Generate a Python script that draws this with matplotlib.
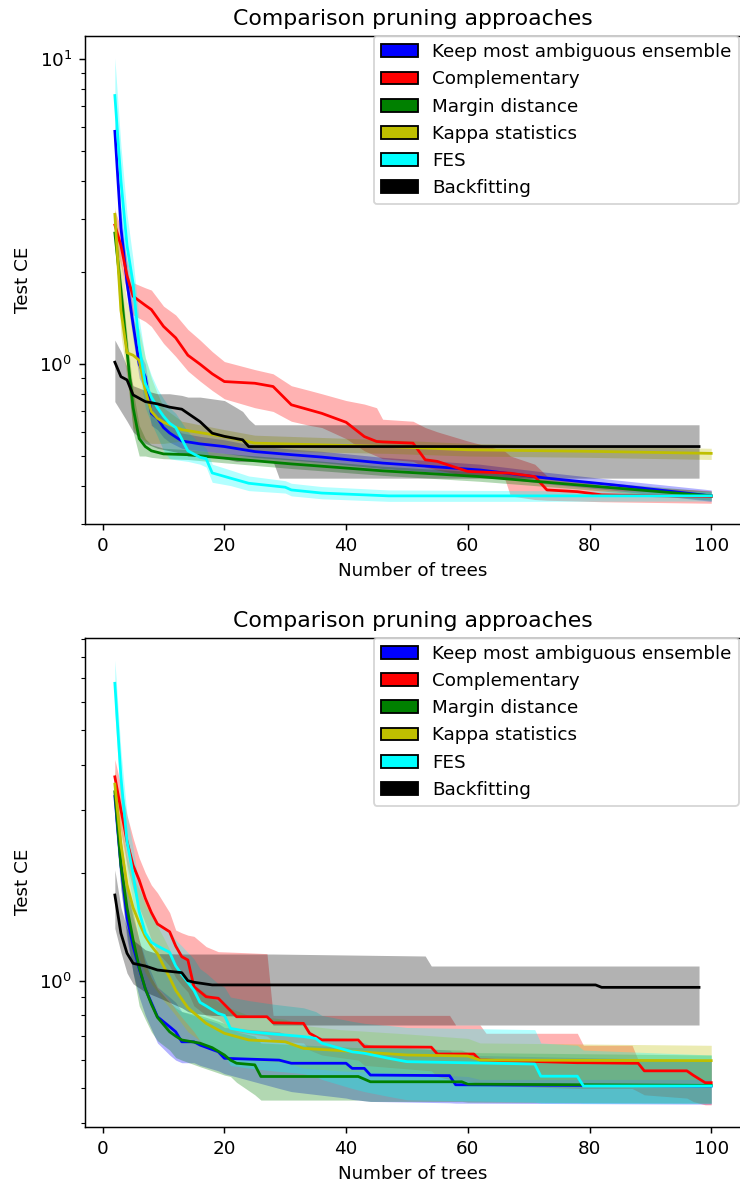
import numpy as np
import matplotlib
matplotlib.use('Agg')
import matplotlib.pyplot as plt
import matplotlib.patches as mpatches

s = 1.32  # original looks like a 132 dpi render of default styles
plt.rcParams['font.family'] = ['DejaVu Sans']
plt.rcParams['font.size'] = 10 * s
plt.rcParams['axes.titlesize'] = 12 * s
plt.rcParams['axes.titlepad'] = 6 * s
plt.rcParams['axes.labelpad'] = 4 * s
plt.rcParams['axes.linewidth'] = 0.8 * s
for a in ('xtick', 'ytick'):
    plt.rcParams[a + '.major.size'] = 3.5 * s
    plt.rcParams[a + '.minor.size'] = 2 * s
    plt.rcParams[a + '.major.width'] = 0.8 * s
    plt.rcParams[a + '.minor.width'] = 0.6 * s
    plt.rcParams[a + '.major.pad'] = 3.5 * s
    plt.rcParams[a + '.minor.pad'] = 3.4 * s
plt.rcParams['patch.linewidth'] = 1.0 * s

# --- Data: rows of (n_trees, mean, lower, upper) --- #
labels = ['Keep most ambiguous ensemble', 'Complementary', 'Margin distance',
          'Kappa statistics', 'FES', 'Backfitting']
colors = ['b', 'r', 'g', 'y', 'cyan', 'k']

# upper panel
top_blue = [(2, 5.8, 5.2, 6.25), (3, 2.8, 2.5, 3.2), (4, 1.85, 1.65, 2.1), (5, 1.35, 1.2, 1.5),
            (6, 1.0, 0.9, 1.1), (7, 0.91, 0.82, 1.0), (8, 0.69, 0.63, 0.76), (9, 0.665, 0.61, 0.72),
            (10, 0.62, 0.575, 0.67), (11, 0.595, 0.555, 0.64), (13, 0.56, 0.53, 0.595),
            (16, 0.548, 0.52, 0.58), (20, 0.537, 0.51, 0.565), (25, 0.517, 0.495, 0.54),
            (31, 0.505, 0.485, 0.527), (36, 0.496, 0.476, 0.518), (46, 0.474, 0.455, 0.495),
            (62, 0.45, 0.432, 0.47), (73, 0.423, 0.405, 0.442), (84, 0.402, 0.386, 0.418),
            (100, 0.37, 0.355, 0.387)]
top_red = [(2, 2.86, 2.5, 3.2), (3, 2.45, 2.1, 2.8), (4, 1.95, 1.7, 2.2), (5, 1.67, 1.45, 1.85),
           (7, 1.56, 1.38, 1.78), (8, 1.51, 1.33, 1.75), (10, 1.33, 1.17, 1.55), (12, 1.22, 1.06, 1.45),
           (14, 1.07, 0.95, 1.3), (16, 1.0, 0.88, 1.2), (18, 0.93, 0.82, 1.1), (20, 0.877, 0.77, 1.02),
           (25, 0.866, 0.72, 0.96), (28, 0.845, 0.7, 0.93), (31, 0.736, 0.65, 0.85),
           (34, 0.708, 0.63, 0.82), (36, 0.69, 0.62, 0.8), (40, 0.645, 0.57, 0.76),
           (43, 0.579, 0.52, 0.74), (45, 0.558, 0.5, 0.72), (46, 0.556, 0.49, 0.66),
           (51, 0.551, 0.48, 0.65), (53, 0.486, 0.46, 0.62), (55, 0.48, 0.45, 0.6),
           (60, 0.445, 0.43, 0.56), (66, 0.44, 0.425, 0.52), (67, 0.439, 0.37, 0.5),
           (71, 0.428, 0.36, 0.47), (73, 0.387, 0.358, 0.43), (78, 0.382, 0.356, 0.415),
           (82, 0.373, 0.354, 0.4), (100, 0.368, 0.35, 0.385)]
top_green = [(2, 2.69, 2.4, 3.0), (3, 1.75, 1.55, 1.95), (4, 1.1, 0.95, 1.25), (5, 0.72, 0.6, 0.82),
             (6, 0.57, 0.5, 0.63), (7, 0.537, 0.5, 0.57), (8, 0.52, 0.495, 0.545),
             (10, 0.508, 0.49, 0.53), (14, 0.505, 0.487, 0.525), (20, 0.492, 0.475, 0.51),
             (31, 0.471, 0.455, 0.49), (46, 0.447, 0.432, 0.463), (62, 0.428, 0.413, 0.443),
             (78, 0.402, 0.39, 0.416), (100, 0.37, 0.358, 0.383)]
top_yellow = [(2, 3.1, 2.6, 3.3), (3, 1.5, 1.25, 2.2), (4, 1.09, 0.9, 1.6), (5, 1.07, 0.62, 1.4),
              (6, 1.03, 0.58, 1.3), (7, 0.82, 0.56, 1.05), (8, 0.7, 0.55, 0.9), (9, 0.665, 0.55, 0.8),
              (10, 0.645, 0.55, 0.72), (13, 0.61, 0.56, 0.65), (20, 0.579, 0.545, 0.61),
              (25, 0.551, 0.52, 0.585), (36, 0.544, 0.515, 0.575), (47, 0.537, 0.51, 0.565),
              (60, 0.524, 0.5, 0.55), (80, 0.518, 0.495, 0.54), (100, 0.51, 0.487, 0.53)]
top_cyan = [(2, 7.6, 5.5, 10.1), (3, 4.0, 3.0, 5.2), (4, 2.45, 2.0, 3.1), (5, 1.84, 1.5, 2.2),
            (6, 1.15, 0.95, 1.4), (7, 0.866, 0.72, 1.05), (8, 0.78, 0.64, 0.92), (9, 0.72, 0.58, 0.83),
            (10, 0.675, 0.52, 0.77), (11, 0.64, 0.49, 0.72), (12, 0.62, 0.486, 0.69),
            (14, 0.52, 0.48, 0.6), (16, 0.495, 0.47, 0.55), (17, 0.49, 0.46, 0.53),
            (18, 0.44, 0.41, 0.47), (21, 0.423, 0.4, 0.45), (24, 0.407, 0.385, 0.43),
            (30, 0.395, 0.378, 0.415), (31, 0.387, 0.37, 0.407), (36, 0.378, 0.362, 0.397),
            (47, 0.37, 0.355, 0.387), (70, 0.37, 0.355, 0.385), (100, 0.37, 0.356, 0.383)]
top_black = [(2, 1.015, 0.754, 1.2), (3, 0.91, 0.7, 1.1), (4, 0.888, 0.65, 0.98), (5, 0.793, 0.6, 0.85),
             (7, 0.754, 0.55, 0.82), (9, 0.741, 0.53, 0.8), (11, 0.723, 0.52, 0.8),
             (13, 0.712, 0.51, 0.79), (14, 0.69, 0.5, 0.78), (16, 0.648, 0.5, 0.78),
             (18, 0.594, 0.5, 0.77), (20, 0.58, 0.49, 0.76), (22, 0.57, 0.48, 0.72),
             (23, 0.565, 0.48, 0.7), (24, 0.537, 0.48, 0.66), (25, 0.537, 0.48, 0.633),
             (28, 0.537, 0.48, 0.633), (29, 0.537, 0.423, 0.633), (98, 0.537, 0.423, 0.633)]

# lower panel
bot_blue = [(2, 3.27, 2.8, 3.7), (3, 2.1, 1.8, 2.5), (4, 1.5, 1.3, 1.8), (5, 1.25, 1.05, 1.5),
            (6, 1.08, 0.9, 1.3), (7, 0.95, 0.8, 1.15), (9, 0.793, 0.67, 0.96), (11, 0.744, 0.62, 0.9),
            (12, 0.72, 0.6, 0.87), (13, 0.675, 0.59, 0.82), (15, 0.675, 0.59, 0.8),
            (16, 0.661, 0.58, 0.79), (19, 0.633, 0.56, 0.76), (20, 0.607, 0.55, 0.74),
            (29, 0.6, 0.5, 0.72), (31, 0.588, 0.49, 0.7), (40, 0.588, 0.47, 0.69),
            (41, 0.569, 0.466, 0.68), (43, 0.569, 0.462, 0.67), (44, 0.545, 0.46, 0.66),
            (57, 0.543, 0.456, 0.64), (58, 0.512, 0.455, 0.62), (100, 0.508, 0.452, 0.6)]
bot_red = [(2, 3.71, 3.3, 4.15), (3, 3.0, 2.6, 3.5), (4, 2.45, 2.1, 2.9), (5, 2.1, 1.8, 2.5),
           (6, 1.91, 1.6, 2.2), (7, 1.7, 1.45, 2.0), (8, 1.55, 1.3, 1.85), (9, 1.44, 1.2, 1.76),
           (11, 1.37, 1.1, 1.55), (12, 1.25, 1.02, 1.385), (13, 1.167, 0.97, 1.36),
           (14, 1.142, 0.93, 1.34), (15, 0.962, 0.85, 1.33), (17, 0.902, 0.8, 1.245),
           (19, 0.893, 0.78, 1.205), (22, 0.793, 0.72, 1.2), (27, 0.793, 0.7, 1.19),
           (28, 0.763, 0.68, 0.8), (33, 0.76, 0.67, 0.8), (34, 0.713, 0.64, 0.8),
           (36, 0.683, 0.62, 0.8), (42, 0.683, 0.6, 0.8), (43, 0.654, 0.58, 0.8),
           (54, 0.652, 0.56, 0.8), (55, 0.624, 0.54, 0.8), (57, 0.624, 0.53, 0.8),
           (58, 0.624, 0.53, 0.752), (61, 0.624, 0.52, 0.752), (62, 0.6, 0.51, 0.752),
           (63, 0.6, 0.51, 0.713), (78, 0.59, 0.5, 0.713), (79, 0.59, 0.5, 0.66),
           (87, 0.588, 0.5, 0.66), (88, 0.588, 0.49, 0.6), (89, 0.56, 0.48, 0.6),
           (96, 0.56, 0.47, 0.6), (97, 0.545, 0.46, 0.6), (99, 0.519, 0.45, 0.6),
           (100, 0.519, 0.45, 0.6)]
bot_green = [(2, 3.37, 2.9, 3.8), (3, 2.1, 1.8, 2.5), (4, 1.6, 1.35, 1.9), (5, 1.3, 1.05, 1.55),
             (6, 1.09, 0.85, 1.3), (7, 0.95, 0.78, 1.12), (8, 0.86, 0.72, 1.02), (9, 0.79, 0.68, 0.95),
             (11, 0.72, 0.64, 0.87), (12, 0.7, 0.61, 0.84), (13, 0.683, 0.6, 0.82),
             (16, 0.669, 0.575, 0.8), (18, 0.65, 0.56, 0.78), (20, 0.62, 0.545, 0.76),
             (21, 0.6, 0.54, 0.74), (22, 0.588, 0.52, 0.72), (25, 0.582, 0.48, 0.7),
             (26, 0.54, 0.464, 0.67), (42, 0.54, 0.464, 0.65), (44, 0.522, 0.46, 0.65),
             (59, 0.522, 0.46, 0.64), (60, 0.514, 0.458, 0.63), (100, 0.51, 0.455, 0.62)]
bot_yellow = [(2, 3.54, 3.0, 3.9), (3, 2.4, 2.0, 2.8), (4, 1.85, 1.5, 2.2), (5, 1.6, 1.3, 1.95),
              (6, 1.45, 1.15, 1.8), (7, 1.33, 1.05, 1.65), (8, 1.25, 0.98, 1.52), (9, 1.19, 0.93, 1.42),
              (10, 1.1, 0.88, 1.32), (11, 1.02, 0.84, 1.22), (12, 0.94, 0.8, 1.12),
              (14, 0.84, 0.72, 1.0), (17, 0.76, 0.66, 0.92), (20, 0.713, 0.62, 0.85),
              (24, 0.683, 0.6, 0.8), (30, 0.675, 0.59, 0.78), (33, 0.647, 0.57, 0.75),
              (39, 0.638, 0.56, 0.73), (50, 0.62, 0.55, 0.71), (60, 0.616, 0.54, 0.69),
              (62, 0.6, 0.53, 0.67), (100, 0.598, 0.53, 0.66)]
bot_cyan = [(2, 6.77, 5.6, 7.86), (3, 3.7, 3.1, 4.4), (4, 2.45, 2.05, 2.9), (5, 1.98, 1.65, 2.35),
            (6, 1.56, 1.3, 1.85), (7, 1.36, 1.12, 1.62), (8, 1.28, 1.02, 1.52), (9, 1.25, 0.96, 1.45),
            (11, 1.2, 0.88, 1.38), (12, 1.1, 0.83, 1.3), (13, 1.04, 0.79, 1.25), (15, 0.94, 0.72, 1.15),
            (16, 0.87, 0.68, 1.08), (17, 0.85, 0.66, 1.05), (19, 0.81, 0.63, 0.98),
            (20, 0.8, 0.62, 0.96), (21, 0.736, 0.58, 0.9), (24, 0.72, 0.57, 0.88),
            (28, 0.71, 0.56, 0.86), (33, 0.698, 0.55, 0.84), (35, 0.69, 0.54, 0.82),
            (36, 0.669, 0.53, 0.8), (41, 0.633, 0.5, 0.77), (43, 0.627, 0.49, 0.76),
            (47, 0.607, 0.475, 0.75), (50, 0.594, 0.465, 0.74), (71, 0.585, 0.458, 0.73),
            (72, 0.541, 0.455, 0.67), (78, 0.541, 0.455, 0.66), (79, 0.508, 0.454, 0.64),
            (100, 0.508, 0.454, 0.62)]
bot_black = [(2, 1.735, 1.4, 2.04), (3, 1.356, 1.2, 1.6), (4, 1.193, 1.05, 1.4), (5, 1.118, 0.98, 1.3),
             (7, 1.099, 0.93, 1.22), (9, 1.071, 0.9, 1.19), (13, 1.053, 0.84, 1.187),
             (14, 1.0, 0.82, 1.187), (15, 0.99, 0.81, 1.187), (18, 0.973, 0.8, 1.187),
             (27, 0.973, 0.793, 1.187), (28, 0.973, 0.752, 1.187), (53, 0.973, 0.752, 1.172),
             (54, 0.973, 0.752, 1.099), (81, 0.973, 0.752, 1.099), (82, 0.958, 0.752, 1.099),
             (98, 0.958, 0.752, 1.099)]

top_series = [top_blue, top_red, top_green, top_yellow, top_cyan, top_black]
bot_series = [bot_blue, bot_red, bot_green, bot_yellow, bot_cyan, bot_black]

# --- Plot --- #
fig = plt.figure(figsize=(7.4, 11.85), dpi=100)
ax_top = fig.add_axes([0.1149, 0.5576, 0.8865, 0.4121])
ax_bot = fig.add_axes([0.1149, 0.0492, 0.8865, 0.4127])


def plot_panel(ax, series, ylim):
    for rows, c in zip(series, colors):
        x, m, lo, hi = np.array(rows).T
        ax.fill_between(x, lo, hi, color=c, alpha=0.3, linewidth=0)
        ax.plot(x, m, color=c, lw=1.5 * s)
    ax.set_yscale('log')
    ax.set_xlim(-2.9, 104.9)
    ax.set_ylim(*ylim)
    ax.set_xticks([0, 20, 40, 60, 80, 100])
    ax.set_title('Comparison pruning approaches')
    ax.set_xlabel('Number of trees')
    ax.set_ylabel('Test CE')
    handles = [mpatches.Patch(facecolor=c, edgecolor='k', label=l) for c, l in zip(colors, labels)]
    ax.legend(handles=handles, loc='upper right', bbox_to_anchor=(0.997, 1.0), borderaxespad=0)


plot_panel(ax_top, top_series, (0.2987, 11.92))
plot_panel(ax_bot, bot_series, (0.391, 9.08))

fig.savefig('out.png', dpi=100)
